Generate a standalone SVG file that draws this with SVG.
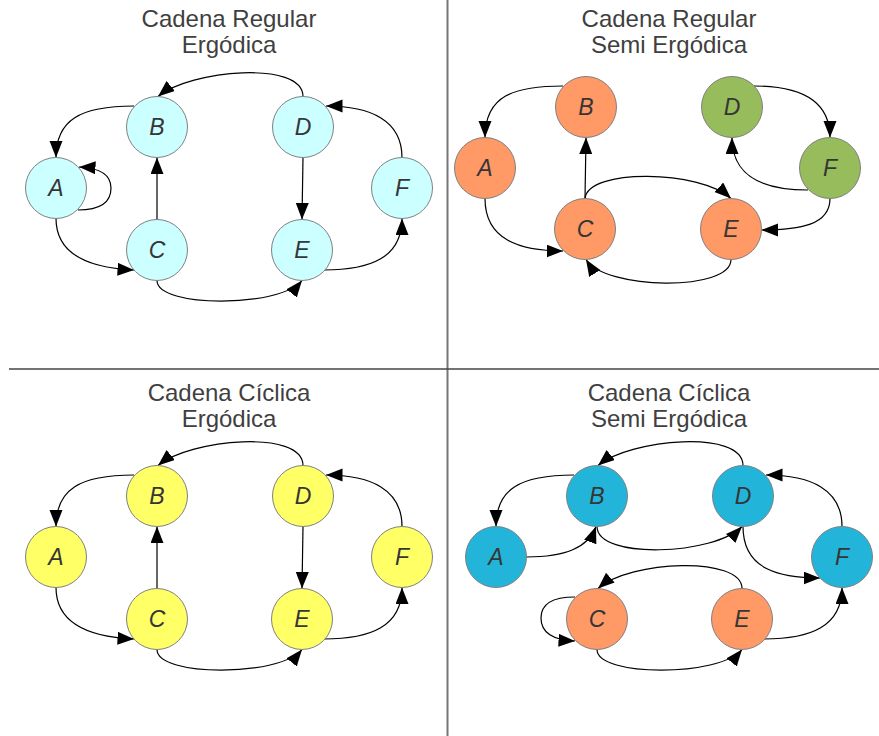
<svg xmlns="http://www.w3.org/2000/svg" width="879" height="736" viewBox="0 0 879 736">
<style>
.title{font-family:"Liberation Sans",Arial,sans-serif;font-size:24px;fill:#3f3f3f;text-anchor:middle}
.lbl{font-family:"Liberation Sans",Arial,sans-serif;font-size:23px;font-style:italic;fill:#363636;text-anchor:middle}
.nd{stroke:#808080;stroke-width:1}
.cy{fill:#ccffff}.or{fill:#ff9966}.gr{fill:#96bc5b}.ye{fill:#ffff66}.bl{fill:#23b5d9}
.e{fill:none;stroke:#000;stroke-width:1.2;marker-end:url(#ah)}
.div{stroke-linecap:butt}
</style>
<defs>
<marker id="ah" markerUnits="userSpaceOnUse" markerWidth="18" markerHeight="14" refX="16.5" refY="6.5" orient="auto">
<path d="M0,0 L16.5,6.5 L0,13 z" fill="#000"/>
</marker>
</defs>
<rect width="879" height="736" fill="#fff"/>
<g id="dividers" class="div">
<line x1="447.5" y1="0" x2="447.5" y2="736" stroke="#777" stroke-width="2"/>
<line x1="9" y1="369" x2="879" y2="369" stroke="#444" stroke-width="1.5"/>
</g>
<g id="titles">
<text class="title" x="229" y="27">Cadena Regular</text>
<text class="title" x="229" y="53">Ergódica</text>
<text class="title" x="669" y="27">Cadena Regular</text>
<text class="title" x="669" y="53">Semi Ergódica</text>
<text class="title" x="229" y="401">Cadena Cíclica</text>
<text class="title" x="229" y="427">Ergódica</text>
<text class="title" x="669" y="401">Cadena Cíclica</text>
<text class="title" x="669" y="427">Semi Ergódica</text>
</g>
<g id="connectors">
<!-- Q1 -->
<path class="e" d="M303,96.5 C303,60 190,70 158,96.5"/>
<path class="e" d="M134,106 C80,106 56,120 56,157.5"/>
<path class="e" d="M78,210 C100,210 111,203 111,188 C111,174 100,168 79,167"/>
<path class="e" d="M56,218.5 C56,255 90,268 134,270"/>
<path class="e" d="M157,219.5 L157,157.5"/>
<path class="e" d="M157,280.5 C157,308 280,308 302,280.5"/>
<path class="e" d="M303,157.5 L302,219.5"/>
<path class="e" d="M324,270 C370,270 402,258 402,218.5"/>
<path class="e" d="M402,157.5 C402,120 370,106 326,106"/>
<!-- Q2 -->
<path class="e" d="M563,86 C515,86 485,95 485,137.5"/>
<path class="e" d="M485,198.5 C485,240 520,251 563,251"/>
<path class="e" d="M585,198.5 L586,137.5"/>
<path class="e" d="M585,198.5 C588,168 700,170 731,198.5"/>
<path class="e" d="M731,259.5 C731,292 605,290 586,259.5"/>
<path class="e" d="M754,86 C800,86 830,100 830,137.5"/>
<path class="e" d="M808,190 C760,190 732,175 732,137.5"/>
<path class="e" d="M830,198.5 C830,225 800,230 761.5,230"/>
<!-- Q3 -->
<path class="e" d="M303,465.5 C303,429 190,439 158,465.5"/>
<path class="e" d="M134,475 C80,475 56,489 56,526.5"/>
<path class="e" d="M56,587.5 C56,624 90,637 134,639"/>
<path class="e" d="M157,588.5 L157,526.5"/>
<path class="e" d="M157,649.5 C157,677 280,677 302,649.5"/>
<path class="e" d="M303,526.5 L302,588.5"/>
<path class="e" d="M324,639 C370,639 402,627 402,587.5"/>
<path class="e" d="M402,526.5 C402,489 370,475 326,475"/>
<!-- Q4 -->
<path class="e" d="M743,465.5 C743,429 630,439 598,465.5"/>
<path class="e" d="M574,475 C520,475 496,489 496,526.5"/>
<path class="e" d="M526.5,557 C565,557 588,548 596,526.5"/>
<path class="e" d="M597,526.5 C597,560 715,555 742,526.5"/>
<path class="e" d="M743,526.5 C743,570 780,578 820,578"/>
<path class="e" d="M842,526.5 C842,489 810,475 766,475"/>
<path class="e" d="M742,588.5 C742,556 630,560 598,588.5"/>
<path class="e" d="M575,597 C550,597 541,605 541,618 C541,632 552,640 575,641"/>
<path class="e" d="M597,649.5 C597,677 720,677 742,649.5"/>
<path class="e" d="M764,639 C810,639 842,627 842,587.5"/>
</g>
<!-- Q1 nodes -->
<g id="q1-A"><circle class="nd cy" cx="56" cy="188" r="30.5"/><text class="lbl" x="56" y="196">A</text></g>
<g id="q1-B"><circle class="nd cy" cx="157" cy="127" r="30.5"/><text class="lbl" x="157" y="135">B</text></g>
<g id="q1-C"><circle class="nd cy" cx="157" cy="250" r="30.5"/><text class="lbl" x="157" y="258">C</text></g>
<g id="q1-D"><circle class="nd cy" cx="303" cy="127" r="30.5"/><text class="lbl" x="303" y="135">D</text></g>
<g id="q1-E"><circle class="nd cy" cx="302" cy="250" r="30.5"/><text class="lbl" x="302" y="258">E</text></g>
<g id="q1-F"><circle class="nd cy" cx="402" cy="188" r="30.5"/><text class="lbl" x="402" y="196">F</text></g>
<!-- Q2 nodes -->
<g id="q2-A"><circle class="nd or" cx="485" cy="168" r="30.5"/><text class="lbl" x="485" y="176">A</text></g>
<g id="q2-B"><circle class="nd or" cx="586" cy="107" r="30.5"/><text class="lbl" x="586" y="115">B</text></g>
<g id="q2-C"><circle class="nd or" cx="585" cy="229" r="30.5"/><text class="lbl" x="585" y="237">C</text></g>
<g id="q2-D"><circle class="nd gr" cx="732" cy="107" r="30.5"/><text class="lbl" x="732" y="115">D</text></g>
<g id="q2-E"><circle class="nd or" cx="731" cy="229" r="30.5"/><text class="lbl" x="731" y="237">E</text></g>
<g id="q2-F"><circle class="nd gr" cx="830" cy="168" r="30.5"/><text class="lbl" x="830" y="176">F</text></g>
<!-- Q3 nodes -->
<g id="q3-A"><circle class="nd ye" cx="56" cy="557" r="30.5"/><text class="lbl" x="56" y="565">A</text></g>
<g id="q3-B"><circle class="nd ye" cx="157" cy="496" r="30.5"/><text class="lbl" x="157" y="504">B</text></g>
<g id="q3-C"><circle class="nd ye" cx="157" cy="619" r="30.5"/><text class="lbl" x="157" y="627">C</text></g>
<g id="q3-D"><circle class="nd ye" cx="303" cy="496" r="30.5"/><text class="lbl" x="303" y="504">D</text></g>
<g id="q3-E"><circle class="nd ye" cx="302" cy="619" r="30.5"/><text class="lbl" x="302" y="627">E</text></g>
<g id="q3-F"><circle class="nd ye" cx="402" cy="557" r="30.5"/><text class="lbl" x="402" y="565">F</text></g>
<!-- Q4 nodes -->
<g id="q4-A"><circle class="nd bl" cx="496" cy="557" r="30.5"/><text class="lbl" x="496" y="565">A</text></g>
<g id="q4-B"><circle class="nd bl" cx="597" cy="496" r="30.5"/><text class="lbl" x="597" y="504">B</text></g>
<g id="q4-C"><circle class="nd or" cx="597" cy="619" r="30.5"/><text class="lbl" x="597" y="627">C</text></g>
<g id="q4-D"><circle class="nd bl" cx="743" cy="496" r="30.5"/><text class="lbl" x="743" y="504">D</text></g>
<g id="q4-E"><circle class="nd or" cx="742" cy="619" r="30.5"/><text class="lbl" x="742" y="627">E</text></g>
<g id="q4-F"><circle class="nd bl" cx="842" cy="557" r="30.5"/><text class="lbl" x="842" y="565">F</text></g>
</svg>
